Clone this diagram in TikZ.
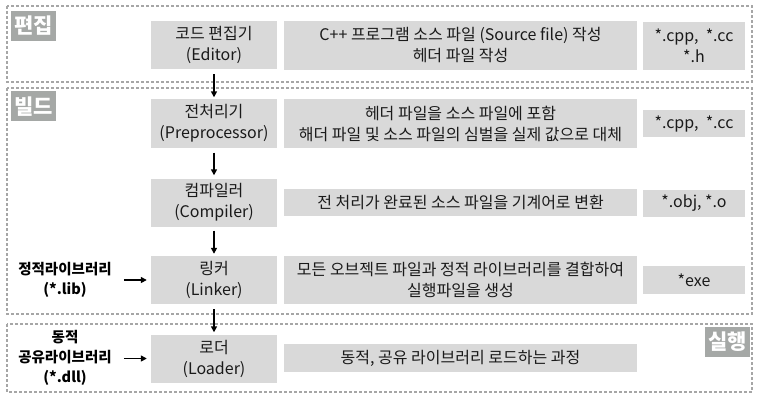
\documentclass[tikz,border=0pt]{standalone}
\usepackage{fontspec}
\setmainfont{Noto Sans CJK KR}
\usetikzlibrary{arrows.meta}
\definecolor{boxgray}{HTML}{D9D9D9}
\definecolor{tagGray}{HTML}{A5A8A6}
\definecolor{dashGray}{HTML}{A6A6A6}
\definecolor{txt}{HTML}{1A1A1A}
\tikzset{
  x=1pt, y=-1pt,
  cell/.style={fill=boxgray, text=txt, align=center, inner sep=0pt,
    font=\fontsize{16}{21}\selectfont},
  toolbox/.style={cell, minimum width=126pt, minimum height=48pt},
  descbox/.style={cell, minimum width=353pt},
  extbox/.style={cell, minimum width=102pt},
  stage/.style={draw=dashGray, line width=1.4pt, dash pattern=on 3pt off 2pt},
  tag/.style={fill=tagGray, text=white, inner sep=0pt, minimum width=45pt,
    minimum height=30pt, font=\fontsize{21}{22}\selectfont\bfseries},
  flow/.style={-{Triangle[length=6pt,width=6pt]}, line width=1.5pt, black},
  libtxt/.style={align=center, text=black, inner sep=0pt,
    font=\fontsize{14.5}{20}\selectfont\bfseries}
}
\begin{document}
\begin{tikzpicture}
\useasboundingbox (0,0) rectangle (757,401);
% stage frames
\draw[stage] (7,6) rectangle (752,82);
\draw[stage] (7,88) rectangle (752,314);
\draw[stage] (7,324) rectangle (752,392);
% stage tags
\node[tag] (tEdit) at (33.5,26) {편집};
\node[tag] (tBuild) at (33.5,106.5) {빌드};
\node[tag] (tRun) at (727.5,342) {실행};
% tool column
\node[toolbox] (ed) at (214,45) {코드 편집기\\(Editor)};
\node[toolbox] (pp) at (214,123.5) {전처리기\\(Preprocessor)};
\node[toolbox] (co) at (214,202.5) {컴파일러\\(Compiler)};
\node[toolbox] (li) at (214,280) {링커\\(Linker)};
\node[toolbox] (lo) at (214,358.5) {로더\\(Loader)};
% description column
\node[descbox, minimum height=49pt] (edD) at (460.5,45.5) {C++ 프로그램 소스 파일 (Source file) 작성\\헤더 파일 작성};
\node[descbox, minimum height=49pt] (ppD) at (460.5,123.5) {헤더 파일을 소스 파일에 포함\\해더 파일 및 소스 파일의 심벌을 실제 값으로 대체};
\node[descbox, minimum height=27pt] (coD) at (460.5,202.5) {전 처리가 완료된 소스 파일을 기계어로 변환};
\node[descbox, minimum height=48pt] (liD) at (460.5,280) {모든 오브젝트 파일과 정적 라이브러리를 결합하여\\실행파일을 생성};
\node[descbox, minimum height=28pt] (loD) at (460.5,358) {동적, 공유 라이브러리 로드하는 과정};
% extension column
\node[extbox, minimum height=48pt] (edE) at (694,46) {*.cpp,~ *.cc\\*.h};
\node[extbox, minimum height=27pt] (ppE) at (694,123.5) {*.cpp,~ *.cc};
\node[extbox, minimum height=27pt] (coE) at (694,203) {*.obj, *.o};
\node[extbox, minimum height=28pt] (liE) at (694,280) {*exe};
% libraries
\node[libtxt] (slib) at (65,280) {정적라이브러리\\(*.lib)};
\node[libtxt] (dlib) at (65,358) {동적\\공유라이브러리\\(*.dll)};
% flow arrows
\draw[flow] (ed.south) ++(0,5) -- ([yshift=2pt]pp.north);
\draw[flow] (pp.south) ++(0,5) -- ([yshift=3pt]co.north);
\draw[flow] (co.south) ++(0,4) -- ([yshift=2pt]li.north);
\draw[flow] (li.south) ++(0,5) -- ([yshift=2pt]lo.north);
\draw[flow] ([xshift=12pt]slib.east) -- ([xshift=-4pt]li.west);
\draw[flow] ([xshift=12pt]dlib.east |- lo.center) -- ([xshift=-4pt]lo.west);
\end{tikzpicture}
\end{document}
